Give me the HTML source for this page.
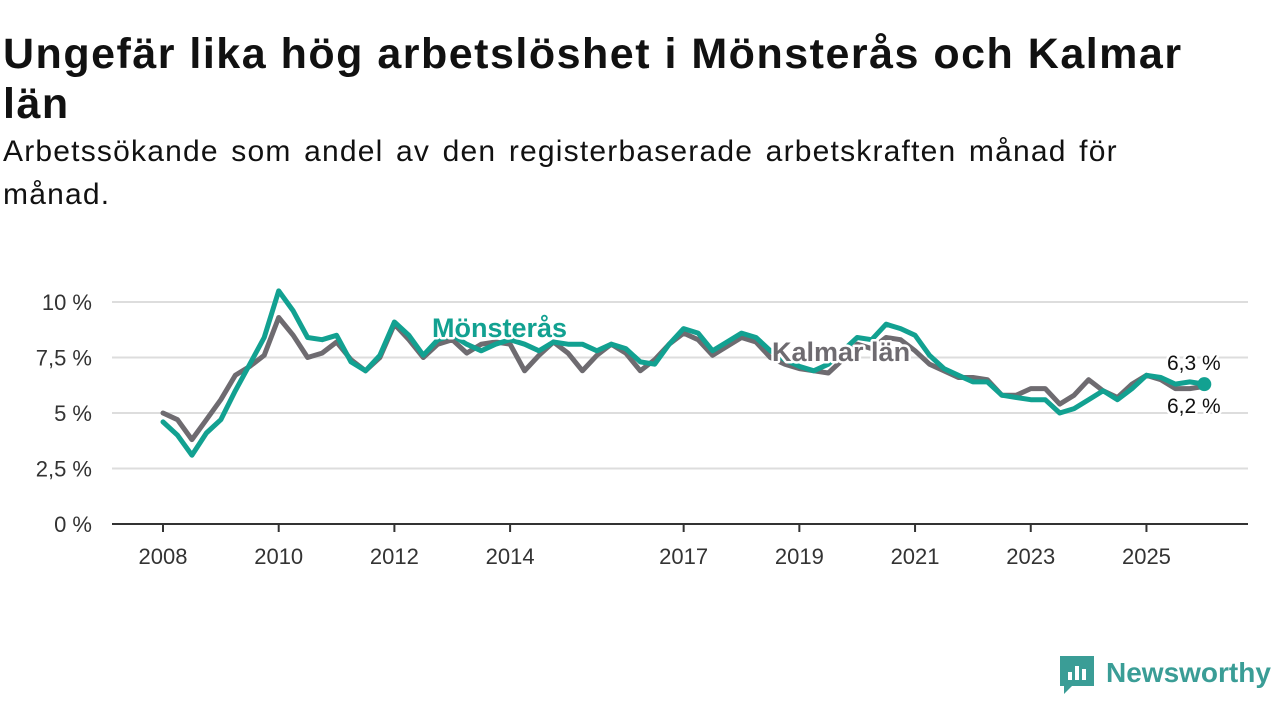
<!DOCTYPE html>
<html><head><meta charset="utf-8"><style>
body{margin:0;background:#fff;font-family:"Liberation Sans","DejaVu Sans",sans-serif;width:1280px;height:720px;overflow:hidden;position:relative}
h1{position:absolute;left:3px;top:29px;margin:0;font-size:43px;line-height:50px;letter-spacing:1.5px;font-weight:bold;color:#111;width:1205px}
p{position:absolute;left:3px;top:130px;margin:0;font-size:30px;line-height:43px;letter-spacing:1.2px;word-spacing:3px;color:#111;width:1178px}
svg{position:absolute;left:0;top:0}
</style></head><body>
<h1>Ungefär lika hög arbetslöshet i Mönsterås och Kalmar län</h1>
<p>Arbetssökande som andel av den registerbaserade arbetskraften månad för månad.</p>
<svg id="chart" width="1280" height="720"></svg>
<script>
const startYear = 2008;
const stepYears = 0.25;
const yTicks = [0, 2.5, 5, 7.5, 10];
const yTickLabels = ["0 %", "2,5 %", "5 %", "7,5 %", "10 %"];
const xTicks = [2008, 2010, 2012, 2014, 2017, 2019, 2021, 2023, 2025];
const monsteras = [4.6,4.0,3.1,4.1,4.7,6.0,7.2,8.4,10.5,9.6,8.4,8.3,8.5,7.3,6.9,7.6,9.1,8.5,7.6,8.3,8.5,8.1,7.8,8.1,8.3,8.1,7.8,8.2,8.1,8.1,7.8,8.1,7.9,7.3,7.2,8.1,8.8,8.6,7.8,8.2,8.6,8.4,7.8,7.4,7.1,6.9,7.2,7.8,8.4,8.3,9.0,8.8,8.5,7.6,7.0,6.7,6.4,6.4,5.8,5.7,5.6,5.6,5.0,5.2,5.6,6.0,5.6,6.1,6.7,6.6,6.3,6.4,6.3];
const kalmar = [5.0,4.7,3.8,4.7,5.6,6.7,7.1,7.6,9.3,8.5,7.5,7.7,8.2,7.4,6.9,7.5,9.0,8.3,7.5,8.1,8.3,7.7,8.1,8.2,8.1,6.9,7.6,8.2,7.7,6.9,7.6,8.1,7.7,6.9,7.4,8.1,8.6,8.3,7.6,8.0,8.4,8.2,7.5,7.2,7.0,6.9,6.8,7.4,8.1,7.9,8.4,8.3,7.8,7.2,6.9,6.6,6.6,6.5,5.8,5.8,6.1,6.1,5.4,5.8,6.5,6.0,5.7,6.3,6.7,6.5,6.1,6.1,6.2];
const endLabels = ["6,3 %", "6,2 %"];

const svg = document.getElementById('chart');
const NS = 'http://www.w3.org/2000/svg';
const x = t => 163 + (t - 2008) * 57.85;
const y = v => 524 - v * 22.2;
function mk(tag, attrs, parent){const e=document.createElementNS(NS,tag);for(const k in attrs)e.setAttribute(k,attrs[k]);(parent||svg).appendChild(e);return e;}

yTicks.forEach((v,i)=>{
  const g = mk('line',{x1:112,x2:1248,y1:y(v),y2:y(v),stroke:v===0?'#333':'#ddd','stroke-width':2});
  
  
  const t = mk('text',{x:92,y:y(v)+8,'text-anchor':'end','font-size':22,fill:'#333'});
  t.textContent = yTickLabels[i];
  
  
});
xTicks.forEach(yr=>{
  const l = mk('line',{x1:x(yr),x2:x(yr),y1:524,y2:532,stroke:'#333','stroke-width':2});
  
  
  const t = mk('text',{x:x(yr),y:564,'text-anchor':'middle','font-size':22,fill:'#333'});
  t.textContent = yr;
  
  
});
function line(data,color,name){
  const d = data.map((v,i)=>(i?'L':'M')+x(startYear+i*stepYears).toFixed(1)+','+y(v).toFixed(1)).join('');
  const p = mk('path',{d:d,fill:'none',stroke:color,'stroke-width':5,'stroke-linejoin':'round','stroke-linecap':'round'});
  
  
}
line(kalmar,'#6e6b70','kalmar-line');
line(monsteras,'#12a191','monsteras-line');
const last = monsteras.length-1;
const dot = mk('circle',{cx:x(startYear+last*stepYears),cy:y(monsteras[last]),r:7,fill:'#12a191'});


function label(txt,xx,yy,color,size,bold,name){
  const t = mk('text',{x:xx,y:yy,'font-size':size,'font-weight':bold?'bold':'normal',fill:color,stroke:'#fff','stroke-width':5,'paint-order':'stroke','stroke-linejoin':'round'});
  t.textContent = txt;
  
  
}
label('Mönsterås',432,337,'#12a191',27,true,'monsteras-label');
label('Kalmar län',772,361,'#6e6b70',27,true,'kalmar-label');
label(endLabels[0],1167,370,'#111',21,false,'monsteras-end-value');
label(endLabels[1],1167,413,'#111',21,false,'kalmar-end-value');

const logo = mk('g',{});


mk('path',{d:'M1060 656h34v30h-22l-8 8v-8h-4z',fill:'#3a9d96'},logo);
mk('rect',{x:1068,y:672,width:4,height:8,fill:'#fff'},logo);
mk('rect',{x:1075,y:666,width:4,height:14,fill:'#fff'},logo);
mk('rect',{x:1082,y:669,width:4,height:11,fill:'#fff'},logo);
const lt = mk('text',{x:1106,y:682,'font-size':28,'font-weight':'bold',fill:'#3a9d96'},logo);
lt.textContent='Newsworthy';
</script>
</body></html>
